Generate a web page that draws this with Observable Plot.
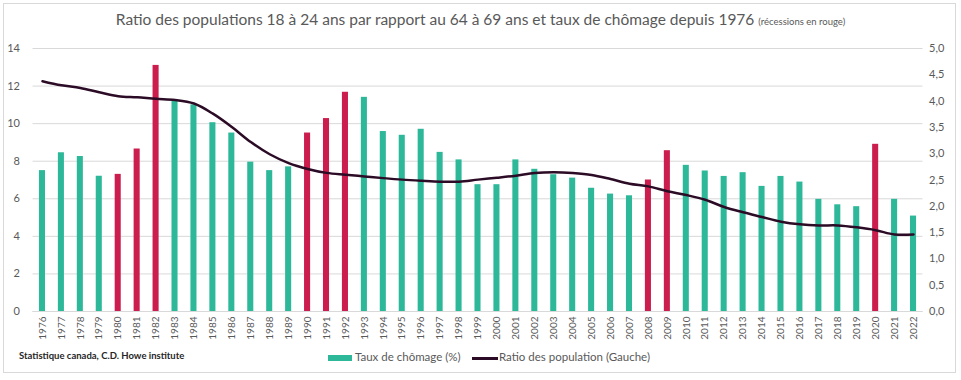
<!DOCTYPE html>
<html>
<head>
<meta charset="utf-8">
<script src="https://cdn.jsdelivr.net/npm/d3@7"></script>
<script src="https://cdn.jsdelivr.net/npm/@observablehq/plot@0.6"></script>
<style>
  html, body { margin: 0; padding: 0; background: #fff; }
  #wrap { position: relative; width: 961px; height: 380px; font-family: Lato, "Open Sans", sans-serif; color: #595959; overflow: hidden; }
  #frame { position: absolute; left: 3px; top: 3px; width: 953px; height: 370px; border: 1px solid #d9d9d9; box-sizing: border-box; }
  #title { position: absolute; left: 0; width: 961px; top: 10px; text-align: center; font-size: 15.5px; color: #595959; white-space: nowrap; }
  #title small { font-size: 9.5px; }
  #chart { position: absolute; left: 0; top: 34px; }
  .leg { position: absolute; font-size: 11.5px; color: #595959; white-space: nowrap; }
  #src { position: absolute; left: 19px; top: 350px; font-size: 9.5px; color: #262626; font-weight: bold; white-space: nowrap; }
</style>
</head>
<body>
<div id="wrap">
  <div id="frame"></div>
  <div id="title">Ratio des populations 18 à 24 ans par rapport au 64 à 69 ans et taux de chômage depuis 1976 <small>(récessions en rouge)</small></div>
  <div id="chart"></div>
  <div id="src">Statistique canada, C.D. Howe institute</div>
  <div style="position:absolute;left:328px;top:355px;width:24px;height:6px;background:#2EB89A"></div>
  <div class="leg" style="left:355px;top:350px">Taux de chômage (%)</div>
  <div style="position:absolute;left:472px;top:357px;width:26px;height:3px;background:#2B0B25"></div>
  <div class="leg" style="left:499px;top:350px">Ratio des population (Gauche)</div>
</div>
<script>
const years = [1976,1977,1978,1979,1980,1981,1982,1983,1984,1985,1986,1987,1988,1989,1990,1991,1992,1993,1994,1995,1996,1997,1998,1999,2000,2001,2002,2003,2004,2005,2006,2007,2008,2009,2010,2011,2012,2013,2014,2015,2016,2017,2018,2019,2020,2021,2022];
const unemployment = [7.5,8.45,8.25,7.2,7.3,8.65,13.1,11.2,11.0,10.05,9.5,7.95,7.5,7.7,9.5,10.27,11.67,11.4,9.58,9.38,9.7,8.47,8.07,6.75,6.75,8.07,7.57,7.28,7.1,6.56,6.25,6.16,7.0,8.56,7.78,7.48,7.19,7.39,6.66,7.19,6.89,5.97,5.68,5.58,8.9,5.97,5.08];
const ratio = [12.26,12.04,11.9,11.67,11.46,11.4,11.32,11.26,11.07,10.53,9.82,9.02,8.37,7.9,7.59,7.38,7.28,7.19,7.1,7.02,6.96,6.91,6.91,7.02,7.12,7.23,7.37,7.41,7.37,7.27,7.05,6.8,6.66,6.4,6.2,5.95,5.56,5.28,5.03,4.78,4.64,4.58,4.58,4.48,4.33,4.1,4.1];
const recessions = [1980,1981,1982,1990,1991,1992,2008,2009,2020];
const leftTicks = [0,2,4,6,8,10,12,14];
const rightTicks = [0,0.5,1,1.5,2,2.5,3,3.5,4,4.5,5];

const data = years.map((y, i) => ({year: String(y), u: unemployment[i], r: ratio[i], rec: recessions.includes(y)}));
const k = 14 / 5;

const chart = Plot.plot({
  width: 961,
  height: 312,
  marginTop: 14,
  marginBottom: 35,
  marginLeft: 32.5,
  marginRight: 38.5,
  style: {fontFamily: "Lato, 'Open Sans', sans-serif", fontSize: "11px", color: "#595959", background: "transparent"},
  x: {type: "band", domain: years.map(String), paddingInner: 0.68, paddingOuter: 0.34},
  y: {domain: [0, 14]},
  marks: [
    Plot.gridY(leftTicks, {stroke: "#d9d9d9", strokeOpacity: 1}),
    Plot.axisY(leftTicks, {anchor: "left", tickSize: 0, tickPadding: 13, fontSize: 11}),
    Plot.axisY(rightTicks.map(v => v * k), {anchor: "right", tickSize: 0, tickPadding: 6, fontSize: 11,
      textAnchor: "start", tickFormat: d => (d / k).toFixed(1).replace(".", ",")}),
    Plot.barY(data, {x: "year", y: "u", fill: d => d.rec ? "#CC1E4E" : "#2EB89A"}),
    Plot.ruleY([0], {stroke: "#d9d9d9"}),
    Plot.lineY(data, {x: "year", y: "r", stroke: "#2B0B25", strokeWidth: 2.5, curve: "catmull-rom"}),
    Plot.axisX({tickSize: 0, tickRotate: -90, tickPadding: 5, fontSize: 10, label: null})
  ]
});
document.getElementById("chart").appendChild(chart);
</script>
</body>
</html>
